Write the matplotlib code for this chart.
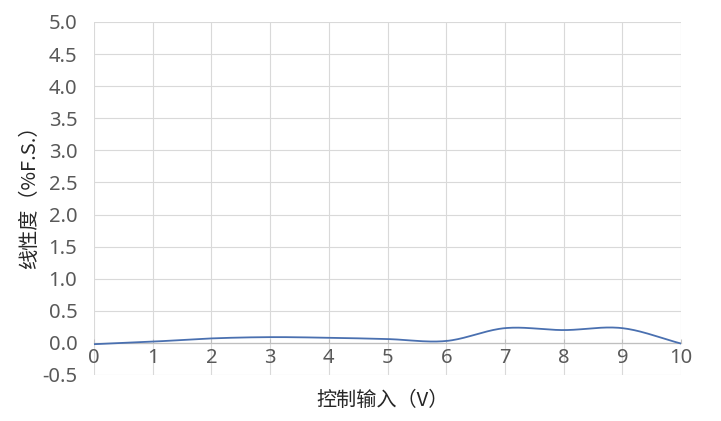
import numpy as np
import matplotlib
matplotlib.use("Agg")
import matplotlib.pyplot as plt

plt.rcParams['font.family'] = ['Noto Sans CJK SC', 'DejaVu Sans']

x_vals = [0, 1, 2, 3, 4, 5, 6, 7, 8, 9, 10]
linearity = [-0.02, 0.02, 0.07, 0.09, 0.08, 0.06, 0.03, 0.23, 0.20, 0.23, -0.01]
x_ticks = [0, 1, 2, 3, 4, 5, 6, 7, 8, 9, 10]
y_ticks = [-0.5, 0.0, 0.5, 1.0, 1.5, 2.0, 2.5, 3.0, 3.5, 4.0, 4.5, 5.0]
x_label = "控制输入（V）"
y_label = "线性度（%F.S.）"


def smooth(xs, ys, n=30):
    # Catmull-Rom smoothing (Excel-style smoothed line) for drawing
    xs = np.asarray(xs, float)
    ys = np.asarray(ys, float)
    px = np.concatenate([[2 * xs[0] - xs[1]], xs, [2 * xs[-1] - xs[-2]]])
    py = np.concatenate([[2 * ys[0] - ys[1]], ys, [2 * ys[-1] - ys[-2]]])
    ox, oy = [], []
    t = np.linspace(0, 1, n, endpoint=False)
    for i in range(1, len(px) - 2):
        for arr, out in ((px, ox), (py, oy)):
            p0, p1, p2, p3 = arr[i - 1], arr[i], arr[i + 1], arr[i + 2]
            out.extend(0.5 * ((2 * p1) + (-p0 + p2) * t
                              + (2 * p0 - 5 * p1 + 4 * p2 - p3) * t ** 2
                              + (-p0 + 3 * p1 - 3 * p2 + p3) * t ** 3))
    ox.append(xs[-1]); oy.append(ys[-1])
    return np.array(ox), np.array(oy)


fig = plt.figure(figsize=(7.21, 4.21), dpi=100)
ax = fig.add_axes([94 / 721, 1 - 375 / 421, (681 - 94) / 721, (375 - 22) / 421])

sx, sy = smooth(x_vals, linearity)
ax.plot(sx, sy, color='#4a70b0', lw=1.3, zorder=3)

ax.set_xlim(0, 10)
ax.set_ylim(-0.5, 5.0)
ax.set_xticks(x_ticks)
ax.set_yticks(y_ticks)
ax.set_yticklabels([f"{v:.1f}" for v in y_ticks])
ax.grid(True, color='#d9d9d9', lw=0.8)
ax.set_axisbelow(True)

for s in ['top', 'right', 'left']:
    ax.spines[s].set_visible(False)
ax.spines['bottom'].set_position(('data', 0))
ax.spines['bottom'].set_color('#bfbfbf')
ax.spines['bottom'].set_linewidth(0.9)

ax.tick_params(axis='y', length=0, pad=12, labelsize=14.5, labelcolor='#595959')
ax.tick_params(axis='x', length=3, direction='in', color='#bfbfbf', pad=4,
               labelsize=14.5, labelcolor='#595959')
for lab in ax.get_xticklabels() + ax.get_yticklabels():
    lab.set_family(['Noto Sans', 'DejaVu Sans'])

fig.text(30 / 721, 1 - 192 / 421, y_label, rotation=90, ha='center', va='center',
         fontsize=14.5, color='#262626')
fig.text(383 / 721, 1 - 400 / 421, x_label, ha='center', va='center',
         fontsize=14.5, color='#262626')

fig.savefig('out.png', dpi=100, facecolor='white')
